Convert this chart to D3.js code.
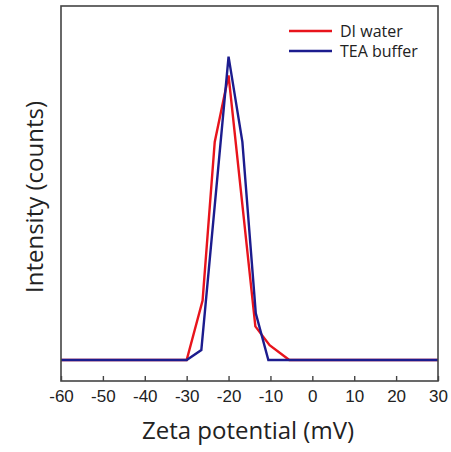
<!DOCTYPE html>
<html>
<head>
<meta charset="utf-8">
<script src="https://cdn.jsdelivr.net/npm/d3@7"></script>
<style>
body { margin: 0; background: #fff; }
</style>
</head>
<body>
<svg width="451" height="452"></svg>
<script>
// zeta potential distributions (mV vs arbitrary counts)
var waterX = [-60, -30, -26.2, -23.3, -20, -13.6, -10.2, -5.5, 30];
var waterY = [0, 0, 19.6, 71.9, 93.8, 11.1, 4.9, 0, 0];
var teaX = [-60, -30, -26.5, -20, -16.7, -13.5, -10.5, 30];
var teaY = [0, 0, 3.3, 100, 71.9, 15.4, 0, 0];
var xTicks = [-60, -50, -40, -30, -20, -10, 0, 10, 20, 30];
var seriesNames = ["DI water", "TEA buffer"];
var colors = ["#e8141c", "#1c1c8e"];

var svg = d3.select("svg");
var pl = 61, pr = 438, pt = 6, pb = 381;

var x = d3.scaleLinear().domain([-60, 30]).range([pl, pr]);
var y = d3.scaleLinear().domain([-6.9, 116.7]).range([pb, pt]);

var series = [
  waterX.map(function(d, i){ return [d, waterY[i]]; }),
  teaX.map(function(d, i){ return [d, teaY[i]]; })
];

var line = d3.line().x(function(d){ return x(d[0]); }).y(function(d){ return y(d[1]); });

series.forEach(function(s, i){
  svg.append("path").datum(s)
    .attr("d", line)
    .attr("fill", "none")
    .attr("stroke", colors[i])
    .attr("stroke-width", 2.4)
    .attr("stroke-linejoin", "miter");
});

// frame
svg.append("rect")
  .attr("x", pl).attr("y", pt)
  .attr("width", pr - pl).attr("height", pb - pt)
  .attr("fill", "none").attr("stroke", "#444").attr("stroke-width", 1.6);

var xAxis = d3.axisBottom(x).tickValues(xTicks)
  .tickFormat(function(d){ return String(d); })
  .tickSizeInner(-5).tickSizeOuter(0).tickPadding(9);
var gx = svg.append("g").attr("transform", "translate(0," + pb + ")").call(xAxis);
gx.attr("font-family", "'Liberation Sans', Arial, sans-serif").attr("font-size", 17);
gx.select(".domain").remove();
gx.selectAll("line").attr("stroke", "#444").attr("stroke-width", 1.4);
gx.selectAll("text").attr("fill", "#222");

svg.append("text")
  .attr("x", 248).attr("y", 439)
  .attr("text-anchor", "middle")
  .attr("font-family", "'Open Sans', sans-serif")
  .attr("font-size", 24)
  .attr("fill", "#222")
  .text("Zeta potential (mV)");

svg.append("text")
  .attr("transform", "translate(43,197) rotate(-90)")
  .attr("text-anchor", "middle")
  .attr("font-family", "'Open Sans', sans-serif")
  .attr("font-size", 24)
  .attr("fill", "#222")
  .text("Intensity (counts)");

// legend
var legend = svg.append("g");
seriesNames.forEach(function(n, i){
  var ly = 31 + i * 20;
  legend.append("line")
    .attr("x1", 289).attr("x2", 332).attr("y1", ly).attr("y2", ly)
    .attr("stroke", colors[i]).attr("stroke-width", 2.4);
  legend.append("text")
    .attr("x", 340).attr("y", ly + 6)
    .attr("font-family", "'Open Sans', sans-serif")
    .attr("font-size", 16)
    .attr("fill", "#222")
    .text(n);
});
</script>
</body>
</html>
